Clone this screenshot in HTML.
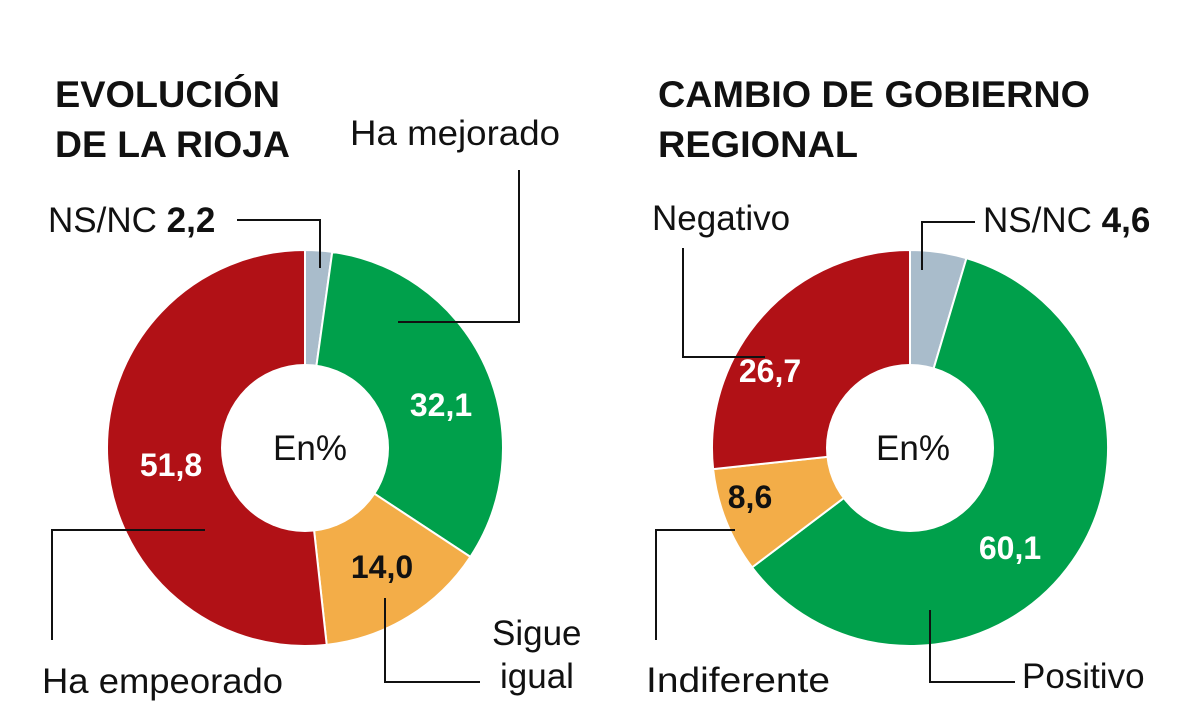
<!DOCTYPE html>
<html><head><meta charset="utf-8"><style>
html,body{margin:0;padding:0;background:#fff;width:1178px;height:726px;overflow:hidden}
svg{display:block}
text{font-family:"Liberation Sans","DejaVu Sans",sans-serif}
.t{font-size:37px;font-weight:bold;fill:#111}
.l{font-size:35px;fill:#111}
.v{font-size:32px;font-weight:bold}
</style></head><body>
<svg id="s" width="1178" height="726" viewBox="0 0 1178 726">
<g id="d1"></g><g id="d2"></g>
<circle cx="305" cy="448" r="84" fill="#fff"/>
<circle cx="910" cy="448" r="84" fill="#fff"/>
<text class="t" x="55" y="107" textLength="225" lengthAdjust="spacingAndGlyphs">EVOLUCIÓN</text>
<text class="t" x="55" y="157" textLength="235" lengthAdjust="spacingAndGlyphs">DE LA RIOJA</text>
<text class="t" x="658" y="107" textLength="432" lengthAdjust="spacingAndGlyphs">CAMBIO DE GOBIERNO</text>
<text class="t" x="658" y="157" textLength="200" lengthAdjust="spacingAndGlyphs">REGIONAL</text>
<text class="l" x="350" y="145" textLength="210" lengthAdjust="spacingAndGlyphs">Ha mejorado</text>
<text class="l" x="48" y="232">NS/NC <tspan font-weight="bold">2,2</tspan></text>
<text class="l" x="42" y="693" textLength="241" lengthAdjust="spacingAndGlyphs">Ha empeorado</text>
<text class="l" x="492" y="645">Sigue</text>
<text class="l" x="500" y="688">igual</text>
<text class="l" x="652" y="230">Negativo</text>
<text class="l" x="983" y="232">NS/NC <tspan font-weight="bold">4,6</tspan></text>
<text class="l" x="646" y="692" textLength="184" lengthAdjust="spacingAndGlyphs">Indiferente</text>
<text class="l" x="1022" y="688">Positivo</text>
<text class="l" x="310" y="460" text-anchor="middle">En%</text>
<text class="l" x="913" y="460" text-anchor="middle">En%</text>
<text class="v" x="441" y="416" text-anchor="middle" fill="#fff">32,1</text>
<text class="v" x="382" y="578" text-anchor="middle" fill="#111">14,0</text>
<text class="v" x="171" y="476" text-anchor="middle" fill="#fff">51,8</text>
<text class="v" x="770" y="382" text-anchor="middle" fill="#fff">26,7</text>
<text class="v" x="750" y="508" text-anchor="middle" fill="#111">8,6</text>
<text class="v" x="1010" y="559" text-anchor="middle" fill="#fff">60,1</text>
<g stroke="#111" stroke-width="2" fill="none">
<polyline points="237,220 320,220 320,268"/>
<polyline points="519,170 519,322 398,322"/>
<polyline points="205,530 52,530 52,640"/>
<polyline points="385,598 385,682 480,682"/>
<polyline points="683,248 683,357 765,357"/>
<polyline points="975,222 922,222 922,270"/>
<polyline points="735,530 656,530 656,640"/>
<polyline points="930,610 930,682 1015,682"/>
</g>
</svg>
<script>
function donut(id,cx,cy,vals){
 var g=document.getElementById(id),a=0,tot=vals.reduce(function(s,v){return s+v[0]},0),R=198,ns="http://www.w3.org/2000/svg";
 vals.forEach(function(v){
  var a2=a+v[0]/tot*2*Math.PI;
  var x1=cx+R*Math.sin(a),y1=cy-R*Math.cos(a),x2=cx+R*Math.sin(a2),y2=cy-R*Math.cos(a2);
  var p=document.createElementNS(ns,"path");
  p.setAttribute("d","M"+cx+","+cy+"L"+x1+","+y1+"A"+R+","+R+" 0 "+(a2-a>Math.PI?1:0)+" 1 "+x2+","+y2+"Z");
  p.setAttribute("fill",v[1]);p.setAttribute("stroke","#fff");p.setAttribute("stroke-width","2");
  g.appendChild(p);a=a2;
 });
}
donut("d1",305,448,[[2.2,"#a9bccb"],[32.1,"#00a04b"],[14.0,"#f3ad48"],[51.8,"#b11116"]]);
donut("d2",910,448,[[4.6,"#a9bccb"],[60.1,"#00a04b"],[8.6,"#f3ad48"],[26.7,"#b11116"]]);
</script>
</body></html>
